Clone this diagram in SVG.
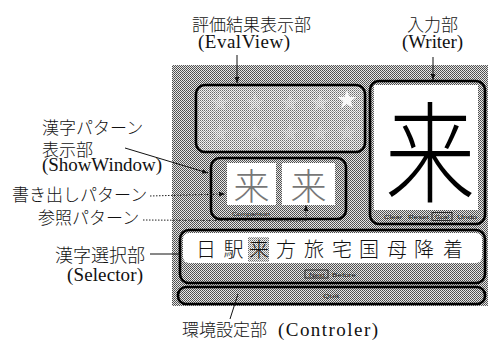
<svg xmlns="http://www.w3.org/2000/svg" width="488" height="341" viewBox="0 0 488 341">
<defs>
<pattern id="dots" width="2" height="2" patternUnits="userSpaceOnUse">
<rect width="2" height="2" fill="#e6e6e6"/><rect width="1" height="1" fill="#4a4a4a"/><rect x="1" y="1" width="1" height="1" fill="#5a5a5a"/>
</pattern>
<pattern id="dotsL" width="2" height="2" patternUnits="userSpaceOnUse">
<rect width="2" height="2" fill="#f2f2f2"/><rect width="1" height="1" fill="#6a6a6a"/><rect x="1" y="1" width="1" height="1" fill="#9a9a9a"/>
</pattern>
<path id="star" d="M0,-10 L2.35,-3.24 L9.51,-3.09 L3.8,1.24 L5.88,8.09 L0,4 L-5.88,8.09 L-3.8,1.24 L-9.51,-3.09 L-2.35,-3.24 Z"/>
<marker id="ah" viewBox="0 0 10 10" refX="10" refY="5" markerWidth="6" markerHeight="6" orient="auto" markerUnits="userSpaceOnUse">
<path d="M0,1 L10,5 L0,9 Z" fill="#111"/>
</marker>
<style>
.box{fill:url(#dots);stroke:#000;stroke-width:2.6}
.jp{font-family:"Noto Sans CJK JP","Noto Sans CJK SC",sans-serif;font-weight:300;font-size:17px;fill:#111}
.lat{font-family:"Liberation Serif",serif;font-size:19px;fill:#111}
.btn{font-family:"Liberation Sans",Arial,sans-serif;font-size:6px;fill:#222}
.sel{font-family:"Noto Sans CJK JP",sans-serif;font-weight:300;font-size:20px;fill:#111;text-anchor:middle}
.ln{stroke:#111;stroke-width:1;fill:none}
.dot{stroke:#222;stroke-width:1;fill:none;stroke-dasharray:1.5 1.5}
</style>
</defs>
<rect width="488" height="341" fill="#fff"/>

<g id="panel">
<rect x="172" y="65" width="316" height="241" fill="url(#dots)"/>
</g>

<g id="evalview">
<rect x="196" y="85" width="169" height="67" rx="9" fill="url(#dotsL)" stroke="#000" stroke-width="2.6"/>
<g fill="#fff">
<use href="#star" x="220" y="103" opacity="0.25"/>
<use href="#star" x="255" y="103" opacity="0.25"/>
<use href="#star" x="290" y="103" opacity="0.25"/>
<use href="#star" x="320" y="103" opacity="0.3"/>
<use href="#star" x="347" y="100" opacity="0.9"/>
<use href="#star" x="220" y="133" opacity="0.2"/>
<use href="#star" x="255" y="133" opacity="0.2"/>
<use href="#star" x="290" y="133" opacity="0.2"/>
<use href="#star" x="320" y="133" opacity="0.2"/>
<use href="#star" x="347" y="133" opacity="0.2"/>
</g>
</g>

<g id="writer">
<rect class="box" x="370" y="81" width="115" height="143" rx="9"/>
<rect x="374" y="85" width="104" height="125" fill="#fff"/>
<text class="jp" text-anchor="middle" transform="translate(430,194) scale(0.82,1)" style="font-size:110px;font-weight:300;fill:#000">来</text>
<text class="btn" x="384" y="218.5" textLength="18" lengthAdjust="spacingAndGlyphs">Clear</text>
<text class="btn" x="408" y="218.5" textLength="21" lengthAdjust="spacingAndGlyphs">Reset</text>
<rect x="432" y="212.5" width="20" height="8" fill="none" stroke="#111" stroke-width="0.8"/>
<text class="btn" x="435" y="218.5" textLength="14" lengthAdjust="spacingAndGlyphs">Goal</text>
<text class="btn" x="457" y="218.5" textLength="20" lengthAdjust="spacingAndGlyphs">Undo</text>
</g>

<g id="showwindow">
<rect class="box" x="211" y="158" width="135" height="61" rx="9"/>
<rect x="227" y="163" width="49" height="42" fill="#fff"/>
<rect x="282" y="163" width="53" height="42" fill="#fff"/>
<text class="jp" x="251.5" y="200" text-anchor="middle" style="font-size:36px;font-weight:200;fill:#777">来</text>
<text class="jp" x="308.5" y="200" text-anchor="middle" style="font-size:36px;font-weight:200;fill:#777">来</text>
<text class="btn" x="232" y="216" textLength="38" lengthAdjust="spacingAndGlyphs">Comparison</text>
</g>

<g id="selector">
<rect class="box" x="180" y="230" width="305" height="53" rx="9"/>
<rect x="183" y="233" width="299" height="30" rx="6" fill="#fff"/>
<rect x="248" y="237" width="21" height="25" fill="url(#dotsL)"/>
<text class="sel" x="206" y="257">日</text>
<text class="sel" x="233.5" y="257">駅</text>
<text class="sel" x="259" y="257">来</text>
<text class="sel" x="286" y="257">方</text>
<text class="sel" x="314" y="257">旅</text>
<text class="sel" x="342" y="257">宅</text>
<text class="sel" x="369" y="257">国</text>
<text class="sel" x="397" y="257">母</text>
<text class="sel" x="424" y="257">降</text>
<text class="sel" x="453" y="257">着</text>
<rect x="305" y="270" width="23" height="8" fill="none" stroke="#111" stroke-width="0.8"/>
<text class="btn" x="309" y="276.5" textLength="16" lengthAdjust="spacingAndGlyphs">Next</text>
<text class="btn" x="332" y="276.5" textLength="24" lengthAdjust="spacingAndGlyphs">Before</text>
</g>

<g id="controler">
<rect class="box" x="178" y="287" width="307" height="17" rx="8"/>
<text class="btn" x="323" y="298" textLength="16" lengthAdjust="spacingAndGlyphs">Quit</text>
</g>

<g id="labels">
<text class="jp" x="192" y="30.5">評価結果表示部</text>
<text class="lat" x="198" y="48" textLength="92" lengthAdjust="spacing">(EvalView)</text>
<text class="jp" x="407" y="30.5">入力部</text>
<text class="lat" x="402" y="48" textLength="61" lengthAdjust="spacing">(Writer)</text>
<text class="jp" x="42" y="134">漢字パターン</text>
<text class="jp" x="42" y="156">表示部</text>
<text class="lat" x="42" y="171" textLength="120" lengthAdjust="spacing">(ShowWindow)</text>
<text class="jp" x="12" y="201">書き出しパターン</text>
<text class="jp" x="38" y="224">参照パターン</text>
<text class="jp" x="55" y="262" style="font-size:18px">漢字選択部</text>
<text class="lat" x="67" y="281" textLength="76" lengthAdjust="spacing">(Selector)</text>
<text class="jp" x="182" y="336">環境設定部</text>
<text class="lat" x="278" y="336" textLength="100" lengthAdjust="spacing">(Controler)</text>
</g>

<g id="connectors">
<line class="ln" x1="237" y1="55" x2="237" y2="83" marker-end="url(#ah)"/>
<line class="ln" x1="433" y1="57" x2="433" y2="80" marker-end="url(#ah)"/>
<line class="ln" x1="125" y1="148" x2="208" y2="173" marker-end="url(#ah)"/>
<line class="ln" x1="150" y1="254" x2="180" y2="254"/>
<line class="ln" x1="238" y1="294" x2="230" y2="319"/>
<line class="dot" x1="150" y1="196" x2="225" y2="194" marker-end="url(#ah)"/>
<polyline class="dot" points="143,220 306,221 306,205" marker-end="url(#ah)"/>
</g>
</svg>
